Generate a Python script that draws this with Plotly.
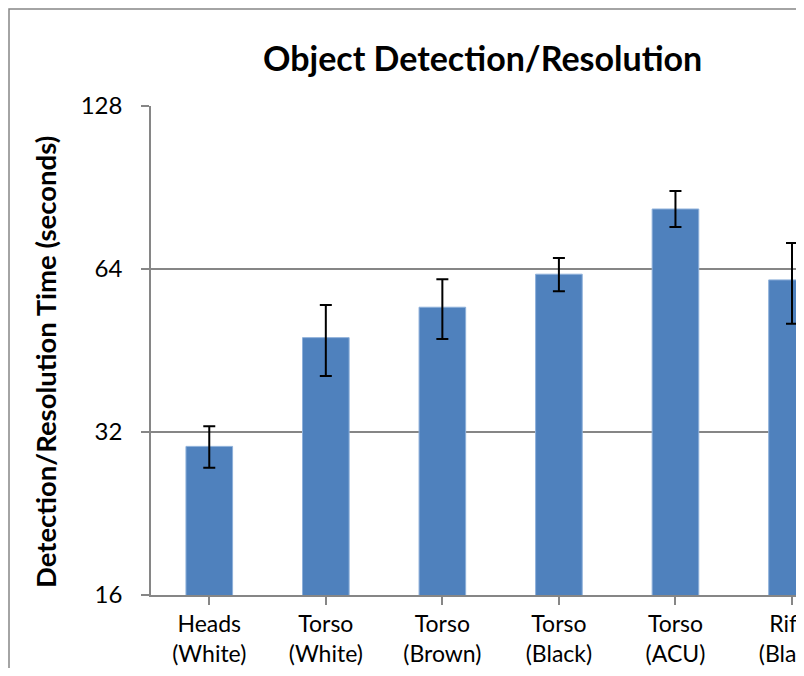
import plotly.graph_objects as go

categories = ["Heads<br>(White)", "Torso<br>(White)", "Torso<br>(Brown)",
              "Torso<br>(Black)", "Torso<br>(ACU)", "Rifle<br>(Black)"]
times = [30.1, 47.8, 54.4, 62.6, 82.6, 61.1]
err_plus = [2.7, 7.1, 6.9, 4.5, 6.6, 10.4]
err_minus = [2.6, 7.2, 6.9, 4.4, 6.1, 10.4]
y_ticks = [16, 32, 64, 128]

# page body has an 8px margin; figure sized to fit inside the window
OFF = 8
W, H = 788, 660
L, R, T, B = 151 - OFF, 0, 106 - OFF, H - (595 - OFF)
pw, ph = W - L - R, H - T - B

def px_x(x):  # screen x -> paper
    return (x - OFF - L) / pw

def px_y(y):  # screen y -> paper
    return (H - B - (y - OFF)) / ph

FONT = "Lato, 'Open Sans', sans-serif"
GRAY = "#868686"

fig = go.Figure()
fig.add_trace(go.Bar(
    x=list(range(len(categories))), y=times, width=0.4,
    marker=dict(color="#4F81BD", line=dict(color="#8EB0DA", width=1)),
    error_y=dict(type="data", symmetric=False, array=err_plus, arrayminus=err_minus,
                 color="black", thickness=2, width=6),
))

fig.update_layout(
    width=W, height=H, autosize=False,
    margin=dict(l=L, r=R, t=T, b=B, pad=0),
    paper_bgcolor="white", plot_bgcolor="white",
    showlegend=False,
    font=dict(family=FONT, size=24, color="black"),
)
fig.update_xaxes(
    range=[-0.5, (W + OFF - 209) / 116.6], tickvals=list(range(len(categories))),
    ticktext=categories, showline=True, linecolor=GRAY, linewidth=1.5,
    ticks="outside", tickson="boundaries", ticklen=8, tickcolor=GRAY, tickwidth=1.5,
    showgrid=False, tickfont=dict(size=23, family=FONT), zeroline=False,
    ticklabelstandoff=0, automargin=False, ticklabeloverflow="allow",
)
fig.update_yaxes(
    type="log", range=[1.20412, 2.10721], tickvals=y_ticks,
    ticktext=[str(v) for v in y_ticks], showline=True, linecolor=GRAY, linewidth=1.5,
    ticks="outside", ticklen=8, tickcolor=GRAY, tickwidth=1.5,
    showgrid=True, gridcolor=GRAY, gridwidth=1.5,
    tickfont=dict(size=24, family=FONT), zeroline=False,
    ticklabelstandoff=14, automargin=False,
)

fig.add_annotation(
    text="<b>Object Detection/Resolution</b>", xref="paper", yref="paper",
    x=px_x(482), y=px_y(58), showarrow=False, xanchor="center", yanchor="middle",
    font=dict(size=34, family=FONT),
)
fig.add_annotation(
    text="<b>Detection/Resolution Time (seconds)</b>", xref="paper", yref="paper",
    x=px_x(45), y=px_y(362), showarrow=False, xanchor="center", yanchor="middle",
    textangle=-90, font=dict(size=27.5, family=FONT),
)
fig.add_shape(
    type="rect", xref="paper", yref="paper",
    x0=px_x(9), x1=px_x(W + 100), y0=px_y(H + 100), y1=px_y(9),
    line=dict(color=GRAY, width=1.5), fillcolor="rgba(0,0,0,0)", layer="below",
)

fig.write_html("out.html")
